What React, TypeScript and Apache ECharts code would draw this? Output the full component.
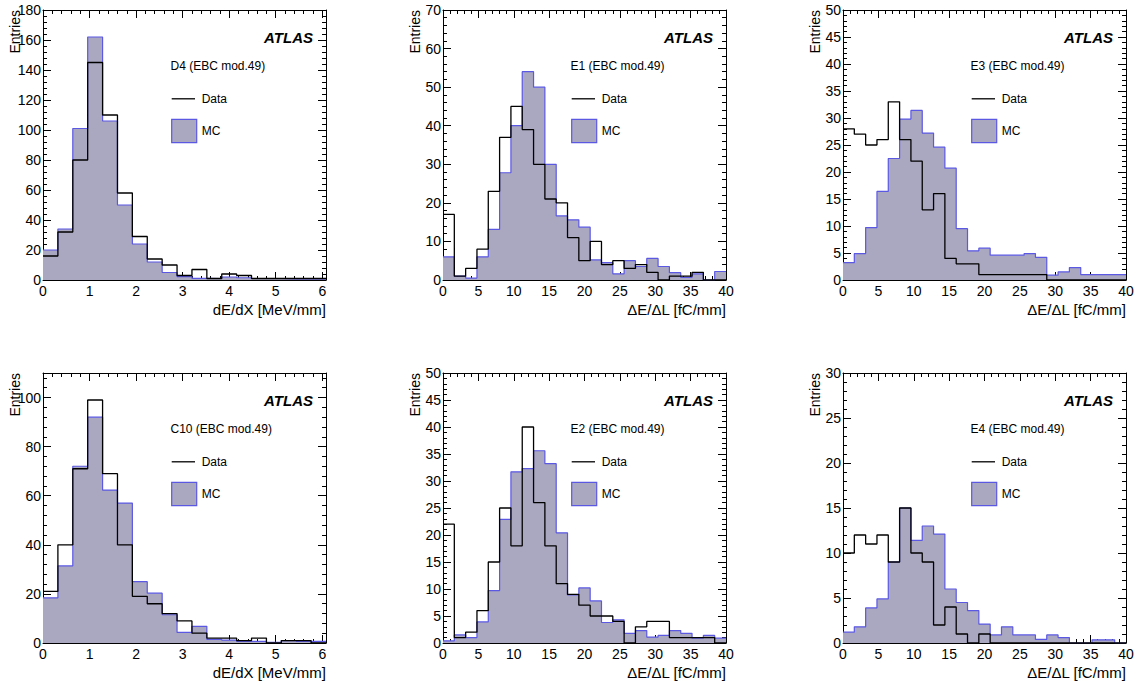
import React, { useEffect, useRef } from "react";
import * as echarts from "echarts";

// ---------- data (bin contents) ----------
const D4_DATA = [16, 32, 80, 145, 110, 58, 29, 14, 10, 3, 7, 1, 4, 3, 1, 1, 1, 1, 1];
const D4_MC = [20, 34, 101, 162, 106, 50, 24, 12, 5, 2.2, 1.1, 1, 2, 1.5, 1, 1, 0.7, 0.7, 0.7];

const E1_DATA = [17, 1, 3, 8, 23, 37, 45, 39, 30, 21, 20, 11, 5, 10, 4, 5, 3, 4, 2, 0, 1, 1, 2, 0, 0];
const E1_MC = [6, 1, 0.5, 6, 13.1, 27.8, 40, 54, 50, 30, 16.6, 15.6, 13.7, 5.2, 4.5, 1.6, 5, 3.5, 5.6, 3.5, 1.9, 0.7, 1.6, 0, 2.2];

const E3_DATA = [28, 27, 25, 26, 33, 26, 22, 13, 16, 4, 3, 3, 1, 1, 1, 1, 1, 1, 0, 0, 0, 0, 0, 0, 0];
const E3_MC = [3.2, 4.9, 9.7, 16.4, 22.5, 29.8, 31.4, 27.2, 24.6, 20.7, 9.5, 5.4, 5.9, 4.6, 4.6, 4.6, 4.9, 4.2, 0.9, 1.5, 2.3, 1, 1, 1, 1];

const C10_DATA = [21, 40, 71, 99, 69, 40, 19, 16, 12, 9, 4, 2, 2, 1, 2, 0, 1, 1, 0];
const C10_MC = [18.4, 31.4, 72, 92, 62.3, 57, 25, 20.3, 11.5, 4.3, 6.8, 1.5, 1.2, 0.7, 0.7, 0.3, 1, 0.7, 0.7];

const E2_DATA = [22, 1, 2, 6, 15, 25, 18, 40, 26, 18, 11, 9, 7, 5, 5, 4, 0, 3, 4, 4, 1, 1, 1, 1, 0];
const E2_MC = [0.4, 1.5, 1, 3.9, 9.7, 22.9, 31.7, 32.3, 35.6, 33.2, 20.4, 8.9, 10.2, 7.8, 3.8, 4.3, 1.8, 2.3, 1.1, 1.4, 2.3, 1.8, 0.9, 1.4, 0.9];

const E4_DATA = [10, 12, 11, 12, 9, 15, 10, 9, 2, 4, 1, 0, 1, 0, 0, 0, 0, 0, 0, 0, 0, 0, 0, 0, 0];
const E4_MC = [1.2, 1.8, 3.9, 4.9, 9, 15, 11.4, 13, 12.1, 6, 4.5, 3.6, 2.1, 0.9, 1.8, 0.9, 0.9, 0.4, 0.9, 0.6, 0, 0, 0.35, 0.35, 0];

const LABELS = ["D4 (EBC mod.49)", "E1 (EBC mod.49)", "E3 (EBC mod.49)", "C10 (EBC mod.49)", "E2 (EBC mod.49)", "E4 (EBC mod.49)"];
const X_TITLES = ["dE/dX [MeV/mm]", "ΔE/ΔL [fC/mm]", "ΔE/ΔL [fC/mm]", "dE/dX [MeV/mm]", "ΔE/ΔL [fC/mm]", "ΔE/ΔL [fC/mm]"];
const BIN_WIDTHS = [0.32, 1.6, 1.6, 0.32, 1.6, 1.6];
const X_MAX = [6.08, 40, 40, 6.08, 40, 40];
const X_INTERVAL = [1, 5, 5, 1, 5, 5];
const Y_MAX = [180, 70, 50, 110, 50, 30];
const Y_INTERVAL = [20, 10, 5, 20, 5, 5];
const DATA_SETS = [D4_DATA, E1_DATA, E3_DATA, C10_DATA, E2_DATA, E4_DATA];
const MC_SETS = [D4_MC, E1_MC, E3_MC, C10_MC, E2_MC, E4_MC];

// ---------- layout / style ----------
const FONT = "'Liberation Sans', Arial, Helvetica, sans-serif";
const LEFTS = [43, 443, 843];
const TOPS = [10, 373];
const PW = 283;
const PH = 270;
const MC_FILL = "#aaa7c1";
const MC_LINE = "#5b58e3";

function histPoints(values: number[], bw: number, xmax: number) {
  const pts: number[][] = values.map((v, i) => [i * bw, v]);
  pts.push([xmax, values[values.length - 1]]);
  return pts;
}

function makeFormatter(interval: number) {
  return (v: number) => {
    const r = v / interval;
    return Math.abs(r - Math.round(r)) < 1e-6 ? String(Math.round(v * 1000) / 1000) : "";
  };
}

function axis(gridIndex: number, position: string, min: number, max: number, interval: number, showLabel: boolean, isY: boolean) {
  return {
    type: "value",
    gridIndex,
    position,
    min,
    max,
    interval,
    axisLine: { show: true, onZero: false, lineStyle: { color: "#000", width: 1 } },
    axisTick: { show: true, inside: true, length: 8, lineStyle: { color: "#000", width: 1 } },
    minorTick: { show: true, splitNumber: 5, length: 4, lineStyle: { color: "#000", width: 1 } },
    splitLine: { show: false },
    minorSplitLine: { show: false },
    axisLabel: {
      show: showLabel,
      color: "#000",
      fontFamily: FONT,
      fontSize: 14,
      margin: isY ? 2 : 4,
      formatter: makeFormatter(interval),
    },
  };
}

export default function App() {
  const ref = useRef<HTMLDivElement>(null);

  useEffect(() => {
    if (!ref.current) return;
    const chart = echarts.init(ref.current, undefined, { renderer: "svg" });

    const grids: any[] = [];
    const xAxes: any[] = [];
    const yAxes: any[] = [];
    const series: any[] = [];
    const graphics: any[] = [];

    for (let p = 0; p < 6; p++) {
      const left = LEFTS[p % 3];
      const top = TOPS[Math.floor(p / 3)];
      grids.push({ left, top, width: PW, height: PH, containLabel: false });

      // primary axes (bottom / left) and mirrored axes (top / right)
      xAxes.push(axis(p, "bottom", 0, X_MAX[p], X_INTERVAL[p], true, false));
      xAxes.push(axis(p, "top", 0, X_MAX[p], X_INTERVAL[p], false, false));
      yAxes.push(axis(p, "left", 0, Y_MAX[p], Y_INTERVAL[p], true, true));
      yAxes.push(axis(p, "right", 0, Y_MAX[p], Y_INTERVAL[p], false, true));

      const xi = p * 2;
      const yi = p * 2;

      series.push({
        type: "line",
        name: "MC",
        xAxisIndex: xi,
        yAxisIndex: yi,
        step: "end",
        symbol: "none",
        data: histPoints(MC_SETS[p], BIN_WIDTHS[p], X_MAX[p]),
        lineStyle: { color: MC_LINE, width: 1.2 },
        itemStyle: { color: MC_LINE },
        areaStyle: { color: MC_FILL, opacity: 1 },
        z: 2,
      });
      series.push({
        type: "line",
        name: "Data",
        xAxisIndex: xi,
        yAxisIndex: yi,
        step: "end",
        symbol: "none",
        data: histPoints(DATA_SETS[p], BIN_WIDTHS[p], X_MAX[p]),
        lineStyle: { color: "#000", width: 1.3 },
        itemStyle: { color: "#000" },
        z: 3,
      });

      // texts and legend
      graphics.push({
        type: "text",
        x: left + 270,
        y: top + 27,
        style: {
          text: "ATLAS",
          font: `italic bold 15px ${FONT}`,
          fill: "#000",
          textAlign: "right",
          textVerticalAlign: "middle",
        },
        z: 10,
      });
      graphics.push({
        type: "text",
        x: left + 127.5,
        y: top + 55.5,
        style: {
          text: LABELS[p],
          font: `12px ${FONT}`,
          fill: "#000",
          textAlign: "left",
          textVerticalAlign: "middle",
        },
        z: 10,
      });
      graphics.push({
        type: "line",
        shape: { x1: left + 128.7, y1: top + 88.8, x2: left + 152, y2: top + 88.8 },
        style: { stroke: "#000", lineWidth: 1.3 },
        z: 10,
      });
      graphics.push({
        type: "text",
        x: left + 158.7,
        y: top + 88.8,
        style: {
          text: "Data",
          font: `12px ${FONT}`,
          fill: "#000",
          textAlign: "left",
          textVerticalAlign: "middle",
        },
        z: 10,
      });
      graphics.push({
        type: "rect",
        shape: { x: left + 128.7, y: top + 109.3, width: 25, height: 23.4 },
        style: { fill: MC_FILL, stroke: MC_LINE, lineWidth: 1.2 },
        z: 10,
      });
      graphics.push({
        type: "text",
        x: left + 158.7,
        y: top + 121,
        style: {
          text: "MC",
          font: `12px ${FONT}`,
          fill: "#000",
          textAlign: "left",
          textVerticalAlign: "middle",
        },
        z: 10,
      });
      // axis titles
      graphics.push({
        type: "text",
        x: left - 28,
        y: top,
        rotation: Math.PI / 2,
        style: {
          text: "Entries",
          font: `14px ${FONT}`,
          fill: "#000",
          textAlign: "right",
          textVerticalAlign: "middle",
        },
        z: 10,
      });
      graphics.push({
        type: "text",
        x: left + PW,
        y: top + PH + 29.5,
        style: {
          text: X_TITLES[p],
          font: `15px ${FONT}`,
          fill: "#000",
          textAlign: "right",
          textVerticalAlign: "middle",
        },
        z: 10,
      });
    }

    chart.setOption({
      animation: false,
      backgroundColor: "#fff",
      grid: grids,
      xAxis: xAxes,
      yAxis: yAxes,
      series,
      graphic: { elements: graphics },
    });

    return () => {
      chart.dispose();
    };
  }, []);

  return (
    <div
      ref={ref}
      style={{ position: "absolute", left: 0, top: 0, width: 1141, height: 684 }}
    />
  );
}
